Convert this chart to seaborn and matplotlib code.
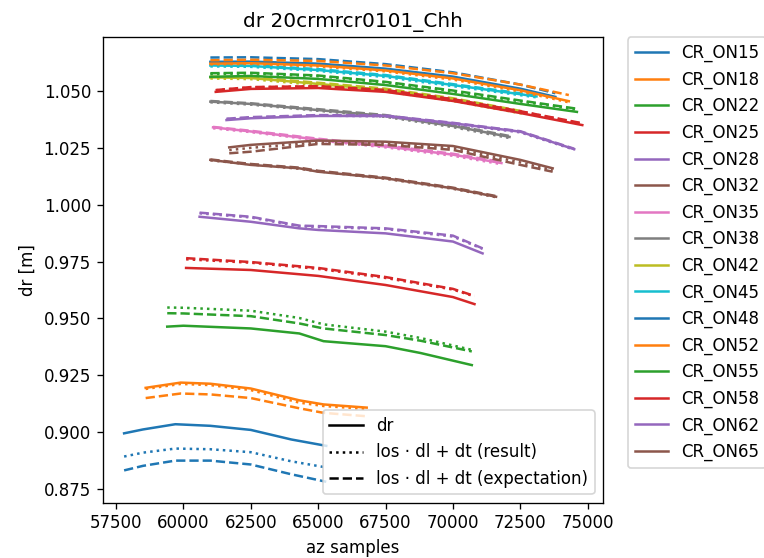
import pandas as pd
import matplotlib
matplotlib.use("Agg")
import matplotlib.pyplot as plt
import seaborn as sns
from matplotlib.lines import Line2D


# ------------------------------------------------------------
# Datos (az samples, dr, resultado, expectativa)
# ------------------------------------------------------------

on15_az = [57800, 58500, 59700, 61000, 62500, 64000, 65300]
on15_dr = [0.8995, 0.9012, 0.9035, 0.9028, 0.9010, 0.8968, 0.8940]
on15_res = [0.8893, 0.8910, 0.8928, 0.8925, 0.8912, 0.8872, 0.8845]
on15_exp = [0.8832, 0.8852, 0.8875, 0.8875, 0.8858, 0.8815, 0.8782]

on18_az = [58600, 59900, 61000, 62500, 64300, 65200, 66800]
on18_dr = [0.9195, 0.9218, 0.9213, 0.9192, 0.9140, 0.9122, 0.9108]
on18_res = [0.9190, 0.9212, 0.9207, 0.9185, 0.9130, 0.9115, 0.9102]
on18_exp = [0.9150, 0.9170, 0.9166, 0.9150, 0.9105, 0.9085, 0.9070]

on22_az = [59400, 60000, 62500, 64300, 65200, 67500, 68800, 70700]
on22_dr = [0.9464, 0.9468, 0.9456, 0.9434, 0.9400, 0.9378, 0.9348, 0.9295]
on22_res = [0.9548, 0.9547, 0.9534, 0.9502, 0.9474, 0.9442, 0.9414, 0.9362]
on22_exp = [0.9523, 0.9522, 0.9510, 0.9478, 0.9456, 0.9427, 0.9402, 0.9355]

on25_az = [60100, 62500, 65000, 67500, 70000, 70800]
on25_dr = [0.9722, 0.9713, 0.9687, 0.9647, 0.9594, 0.9563]
on25_res = [0.9760, 0.9745, 0.9718, 0.9678, 0.9627, 0.9597]
on25_exp = [0.9765, 0.9748, 0.9722, 0.9682, 0.9630, 0.9599]

on28_az = [60600, 62500, 64300, 65000, 67500, 70000, 71100]
on28_dr = [0.9947, 0.9925, 0.9896, 0.9889, 0.9874, 0.9838, 0.9786]
on28_res = [0.9962, 0.9944, 0.9905, 0.9902, 0.9893, 0.9860, 0.9806]
on28_exp = [0.9965, 0.9947, 0.9908, 0.9906, 0.9896, 0.9864, 0.9808]

on32_az = [61000, 62500, 64300, 65000, 67500, 70000, 71600]
on32_dr = [1.0197, 1.0175, 1.0160, 1.0145, 1.0116, 1.0072, 1.0035]
on32_res = [1.0195, 1.0177, 1.0158, 1.0147, 1.0114, 1.0070, 1.0033]
on32_exp = [1.0199, 1.0179, 1.0163, 1.0149, 1.0119, 1.0075, 1.0038]

on35_az = [61100, 62500, 65000, 67500, 70000, 71800]
on35_dr = [1.0340, 1.0322, 1.0286, 1.0256, 1.0220, 1.0183]
on35_res = [1.0336, 1.0319, 1.0283, 1.0252, 1.0215, 1.0178]
on35_exp = [1.0342, 1.0325, 1.0290, 1.0260, 1.0224, 1.0188]

on38_az = [61000, 62500, 65000, 67500, 70000, 72100]
on38_dr = [1.0453, 1.0443, 1.0416, 1.0390, 1.0346, 1.0298]
on38_res = [1.0450, 1.0440, 1.0413, 1.0386, 1.0341, 1.0293]
on38_exp = [1.0456, 1.0446, 1.0420, 1.0394, 1.0350, 1.0302]

on42_az = [61000, 62500, 65000, 67500, 70000, 72600]
on42_dr = [1.0560, 1.0557, 1.0531, 1.0504, 1.0462, 1.0405]
on42_res = [1.0555, 1.0552, 1.0526, 1.0498, 1.0456, 1.0400]
on42_exp = [1.0563, 1.0561, 1.0536, 1.0510, 1.0468, 1.0410]

on45_az = [61000, 62500, 65000, 67500, 70000, 73100]
on45_dr = [1.0612, 1.0610, 1.0592, 1.0566, 1.0526, 1.0476]
on45_res = [1.0608, 1.0606, 1.0588, 1.0561, 1.0521, 1.0472]
on45_exp = [1.0615, 1.0613, 1.0596, 1.0570, 1.0530, 1.0480]

on48_az = [61000, 62500, 65000, 67500, 70000, 72500, 73800]
on48_dr = [1.0628, 1.0629, 1.0620, 1.0598, 1.0563, 1.0510, 1.0474]
on48_res = [1.0625, 1.0626, 1.0616, 1.0594, 1.0558, 1.0505, 1.0470]
on48_exp = [1.0647, 1.0648, 1.0640, 1.0618, 1.0582, 1.0528, 1.0490]

on52_az = [61000, 62500, 65000, 67500, 70000, 72500, 74300]
on52_dr = [1.0620, 1.0622, 1.0612, 1.0590, 1.0555, 1.0503, 1.0455]
on52_res = [1.0617, 1.0619, 1.0608, 1.0586, 1.0550, 1.0498, 1.0450]
on52_exp = [1.0635, 1.0637, 1.0632, 1.0612, 1.0578, 1.0528, 1.0482]

on55_az = [61000, 62500, 65000, 67500, 70000, 72500, 74600]
on55_dr = [1.0562, 1.0566, 1.0553, 1.0526, 1.0487, 1.0443, 1.0408]
on55_res = [1.0574, 1.0577, 1.0565, 1.0537, 1.0498, 1.0454, 1.0418]
on55_exp = [1.0578, 1.0580, 1.0568, 1.0540, 1.0502, 1.0458, 1.0422]

on58_az = [61200, 62500, 65000, 67500, 70000, 72500, 74800]
on58_dr = [1.0496, 1.0509, 1.0513, 1.0496, 1.0456, 1.0403, 1.0350]
on58_res = [1.0503, 1.0516, 1.0520, 1.0503, 1.0463, 1.0410, 1.0356]
on58_exp = [1.0504, 1.0517, 1.0521, 1.0504, 1.0464, 1.0411, 1.0358]

on62_az = [61600, 62500, 65000, 67500, 70000, 72500, 74500]
on62_dr = [1.0372, 1.0380, 1.0390, 1.0390, 1.0358, 1.0321, 1.0244]
on62_res = [1.0376, 1.0383, 1.0392, 1.0388, 1.0355, 1.0318, 1.0242]
on62_exp = [1.0378, 1.0385, 1.0394, 1.0392, 1.0360, 1.0323, 1.0246]

on65_az = [61700, 62500, 65000, 67500, 70000, 72500, 73700]
on65_dr = [1.0252, 1.0263, 1.0282, 1.0277, 1.0258, 1.0197, 1.0160]
on65_res = [1.0240, 1.0250, 1.0274, 1.0270, 1.0250, 1.0186, 1.0152]
on65_exp = [1.0226, 1.0233, 1.0267, 1.0263, 1.0241, 1.0175, 1.0145]

estaciones = ["CR_ON15", "CR_ON18", "CR_ON22", "CR_ON25", "CR_ON28", "CR_ON32",
              "CR_ON35", "CR_ON38", "CR_ON42", "CR_ON45", "CR_ON48", "CR_ON52",
              "CR_ON55", "CR_ON58", "CR_ON62", "CR_ON65"]

series = [
    (on15_az, on15_dr, on15_res, on15_exp),
    (on18_az, on18_dr, on18_res, on18_exp),
    (on22_az, on22_dr, on22_res, on22_exp),
    (on25_az, on25_dr, on25_res, on25_exp),
    (on28_az, on28_dr, on28_res, on28_exp),
    (on32_az, on32_dr, on32_res, on32_exp),
    (on35_az, on35_dr, on35_res, on35_exp),
    (on38_az, on38_dr, on38_res, on38_exp),
    (on42_az, on42_dr, on42_res, on42_exp),
    (on45_az, on45_dr, on45_res, on45_exp),
    (on48_az, on48_dr, on48_res, on48_exp),
    (on52_az, on52_dr, on52_res, on52_exp),
    (on55_az, on55_dr, on55_res, on55_exp),
    (on58_az, on58_dr, on58_res, on58_exp),
    (on62_az, on62_dr, on62_res, on62_exp),
    (on65_az, on65_dr, on65_res, on65_exp),
]

tipos = ["dr", "result", "expectation"]


# ------------------------------------------------------------
# Tabla larga para seaborn
# ------------------------------------------------------------

filas = []
for nombre, (az, dr, res, exp) in zip(estaciones, series):
    for tipo, valores in zip(tipos, (dr, res, exp)):
        for a, v in zip(az, valores):
            filas.append({"estacion": nombre, "tipo": tipo, "az": a, "valor": v})

df = pd.DataFrame(filas)

colores = sns.color_palette("tab10", 10)
paleta = [colores[i % 10] for i in range(len(estaciones))]


# ------------------------------------------------------------
# Grafico
# ------------------------------------------------------------

fig = plt.figure(figsize=(764 / 120, 558 / 120), dpi=120)
ax = fig.add_axes([0.1344, 0.0991, 0.6549, 0.8341])

sns.lineplot(
    data=df,
    x="az",
    y="valor",
    hue="estacion",
    style="tipo",
    hue_order=estaciones,
    style_order=tipos,
    palette=paleta,
    dashes={"dr": "", "result": (1, 1.65), "expectation": (3.7, 1.6)},
    estimator=None,
    sort=False,
    legend=False,
    linewidth=1.5,
    ax=ax
)

ax.set_xlim(57005, 75569)
ax.set_ylim(0.8690, 1.0736)
ax.set_xticks([57500, 60000, 62500, 65000, 67500, 70000, 72500, 75000])
ax.set_title("dr 20crmrcr0101_Chh")
ax.set_xlabel("az samples")
ax.set_ylabel("dr [m]")

handles_est = [Line2D([0], [0], color=paleta[i], lw=1.5) for i in range(len(estaciones))]
leg1 = ax.legend(handles_est, estaciones, bbox_to_anchor=(1.05, 1), loc="upper left",
                 borderaxespad=0)
ax.add_artist(leg1)

handles_tipo = [
    Line2D([0], [0], color="black", lw=1.5, ls="-"),
    Line2D([0], [0], color="black", lw=1.5, ls=":"),
    Line2D([0], [0], color="black", lw=1.5, ls="--"),
]
ax.legend(handles_tipo,
          ["dr", "los \u00b7 dl + dt (result)", "los \u00b7 dl + dt (expectation)"],
          loc="lower right")

fig.savefig("out.png", dpi=120)
plt.close(fig)
